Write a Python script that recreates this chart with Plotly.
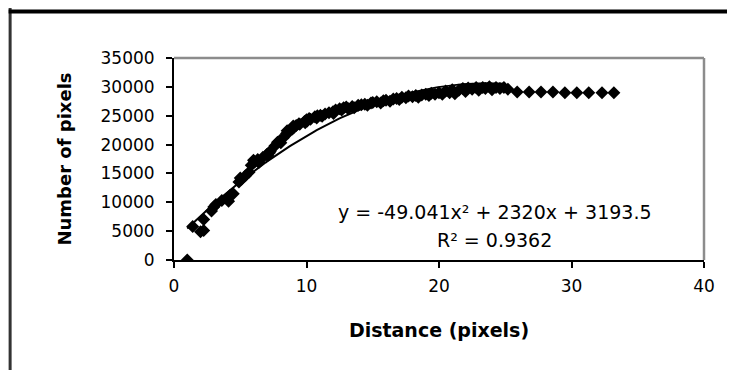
import numpy as np
import plotly.graph_objects as go

# ---- data ----
distance = [1.0, 1.41, 2.0, 2.24, 2.24, 2.83, 3.0, 3.16, 3.61, 4.0, 4.12, 4.24, 4.47,
            4.9, 5.0, 5.1, 5.39, 5.66, 5.83, 6.0, 6.08, 6.32, 6.4, 6.71, 7.0, 7.07,
            7.21, 7.28, 7.62, 7.81, 8.0, 8.06, 8.25, 8.49, 8.54, 8.6, 8.94, 9.0, 9.06,
            9.22, 9.43, 9.49, 9.85, 9.9, 10.0, 10.05, 10.2, 10.3, 10.63, 10.77, 10.82,
            11.05, 11.18, 11.4, 11.7, 12.0, 12.04, 12.2, 12.5, 12.65, 12.8, 13.0, 13.15,
            13.45, 13.6, 13.9, 14.14, 14.4, 14.6, 14.87, 15.0, 15.3, 15.6, 15.8, 16.0,
            16.3, 16.55, 16.8, 17.0, 17.2, 17.5, 17.7, 18.0, 18.25, 18.44, 18.7, 19.0,
            19.24, 19.42, 19.7, 20.0, 20.25, 20.5, 20.8, 21.0, 21.2, 21.5, 21.8, 22.0,
            22.2, 22.5, 22.8, 23.0, 23.3, 23.5, 23.8, 24.0, 24.3, 24.6, 24.9, 25.2,
            25.9, 26.8, 27.7, 28.6, 29.5, 30.4, 31.3, 32.3, 33.2]
pixel_count = [0, 5800, 4900, 5100, 7000, 8500, 9200, 9600, 10300, 10600, 10200, 11200, 11500,
               13500, 14200, 14000, 14600, 15200, 16400, 17300, 17000, 17400, 16900, 17800, 18300, 18100,
               18600, 18900, 19800, 20400, 20700, 20300, 21200, 21900, 22400, 22000, 22700, 23200, 23000,
               23300, 23600, 23500, 24000, 23800, 24300, 24100, 24500, 24400, 24800, 24600, 25000,
               25100, 24900, 25300, 25500, 25700, 25400, 26000, 26200, 26000, 26400, 26500, 26200,
               26600, 26400, 26800, 26900, 27000, 26800, 27200, 27300, 27400, 27200, 27600, 27700,
               27500, 27900, 28000, 27800, 28200, 28100, 28400, 28300, 28500, 28200, 28600, 28700,
               28500, 28900, 28700, 29000, 28700, 29300, 29000, 29500, 28800, 29400, 29700, 29200,
               29800, 29600, 29900, 29400, 29900, 29700, 30000, 29500, 29900, 29700, 29900, 29600,
               29100, 29100, 29100, 29100, 29000, 29000, 29000, 29000, 29000]

# trendline shown on the chart: y = -49.041x^2 + 2320x + 3193.5
trend_coeffs = [-49.041, 2320.0, 3193.5]
trend_range = [1.0, 25.0]

x_ticks = [0, 10, 20, 30, 40]
y_ticks = [0, 5000, 10000, 15000, 20000, 25000, 30000, 35000]
y_tick_labels = [str(v) for v in y_ticks]

x_title = "Distance (pixels)"
y_title = "Number of pixels"
eq_text = "y = -49.041x² + 2320x + 3193.5"
r2_text = "R² = 0.9362"

# ---- layout geometry (page pixels; the page body has an 8px margin) ----
OFF = 8
W, H = 735 - 2 * OFF, 378 - 2 * OFF
plot_left, plot_right, plot_top, plot_bottom = 174, 706, 58, 260  # page px
L = plot_left - OFF
T = plot_top - OFF
R = W - (plot_right - OFF)
B = H - (plot_bottom - OFF)
pw, ph = W - L - R, H - T - B

def px_to_paper_x(px):  # page px -> paper
    return (px - plot_left) / pw

def px_to_paper_y(py):
    return (plot_bottom - py) / ph

trend_x = np.linspace(trend_range[0], trend_range[1], 200)
trend_y = np.polyval(trend_coeffs, trend_x)

font = "DejaVu Sans"

fig = go.Figure()
fig.add_trace(go.Scatter(x=trend_x, y=trend_y, mode="lines",
                         line=dict(color="black", width=2), hoverinfo="skip"))
fig.add_trace(go.Scatter(x=distance, y=pixel_count, mode="markers",
                         marker=dict(symbol="diamond", size=10, color="black",
                                     line=dict(width=0))))

fig.update_layout(
    width=W, height=H,
    margin=dict(l=L, r=R, t=T, b=B, pad=0),
    paper_bgcolor="white", plot_bgcolor="white",
    showlegend=False,
    font=dict(family=font, color="black", size=16),
    xaxis=dict(range=[0, 40], tickvals=x_ticks, ticks="outside", ticklen=6,
               tickwidth=1.5, tickcolor="black", showline=True, linecolor="black",
               linewidth=2, showgrid=False, zeroline=False,
               tickfont=dict(family=font, size=17), ticklabelstandoff=4,
               title=dict(text="<b>" + x_title + "</b>", standoff=28,
                          font=dict(family=font, size=19))),
    yaxis=dict(range=[0, 35000], tickvals=y_ticks, ticktext=y_tick_labels,
               ticks="outside", ticklen=6,
               tickwidth=1.5, tickcolor="black", showline=True, linecolor="black",
               linewidth=2, showgrid=False, zeroline=False,
               tickfont=dict(family=font, size=17), ticklabelstandoff=8,
               title=dict(text="<b>" + y_title + "</b>", standoff=24,
                          font=dict(family=font, size=18))),
)

# plot-area border (grey, top and right)
fig.add_shape(type="line", xref="paper", yref="paper", x0=0, x1=1, y0=1, y1=1,
              line=dict(color="#8c8c8c", width=2.5))
fig.add_shape(type="line", xref="paper", yref="paper", x0=1, x1=1, y0=0, y1=1,
              line=dict(color="#8c8c8c", width=2.5))

# outer frame lines
fig.add_shape(type="line", xref="paper", yref="paper",
              x0=px_to_paper_x(9.5), x1=px_to_paper_x(9.5),
              y0=px_to_paper_y(0), y1=px_to_paper_y(400),
              line=dict(color="#333333", width=3))
fig.add_shape(type="line", xref="paper", yref="paper",
              x0=px_to_paper_x(8), x1=px_to_paper_x(740),
              y0=px_to_paper_y(11.5), y1=px_to_paper_y(11.5),
              line=dict(color="black", width=4))

# trendline equation
fig.add_annotation(x=24.2, y=8300, xref="x", yref="y", text=eq_text, showarrow=False,
                   font=dict(family=font, size=19, color="black"))
fig.add_annotation(x=24.2, y=3500, xref="x", yref="y", text=r2_text, showarrow=False,
                   font=dict(family=font, size=19, color="black"))

fig.write_html("out.html")
